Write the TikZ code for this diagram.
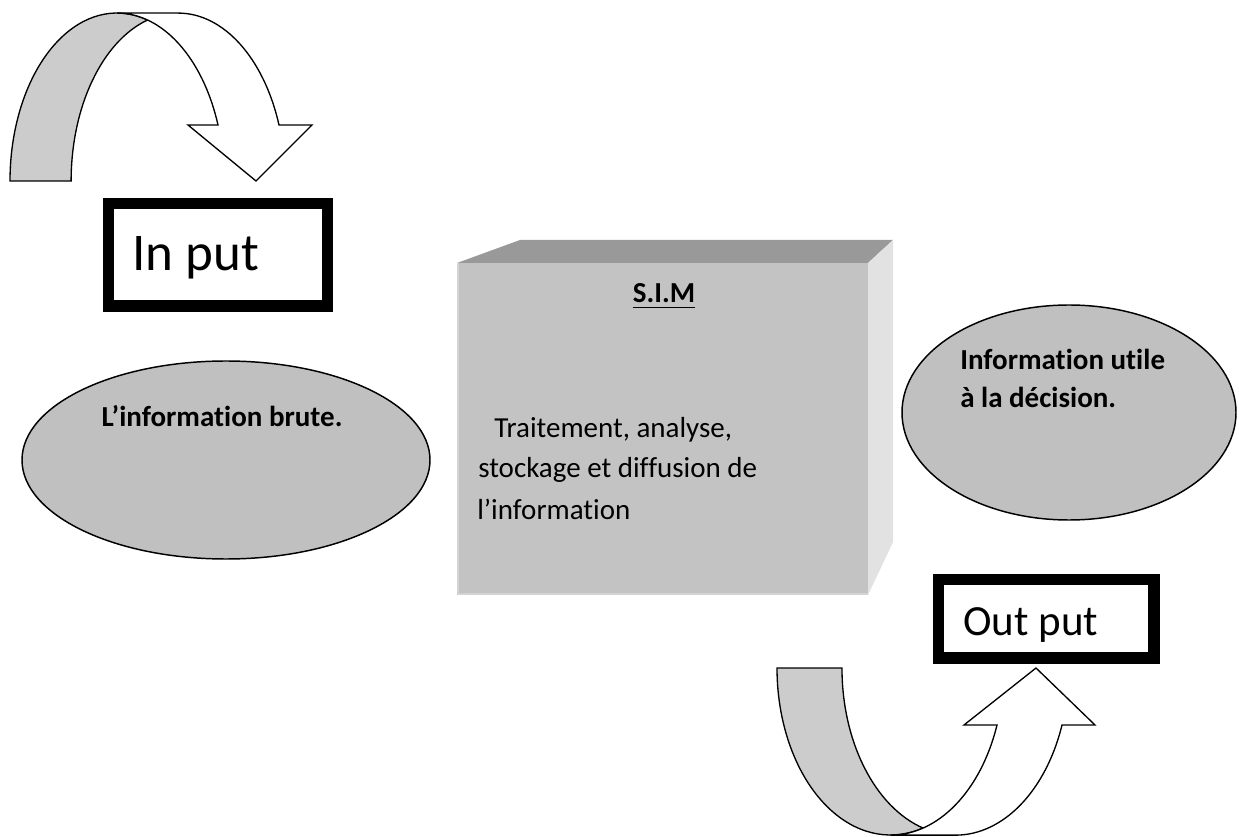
\documentclass[tikz,border=0pt]{standalone}
\usepackage{fontspec}
\setmainfont{Carlito}[Ligatures=NoCommon]
\usetikzlibrary{shapes.geometric}
\definecolor{bandgray}{HTML}{CCCCCC}
\definecolor{ovalgray}{HTML}{C0C0C0}
\definecolor{frontgray}{HTML}{C3C3C3}
\definecolor{edgegray}{HTML}{D3D3D3}
\definecolor{topgray}{HTML}{999999}
\definecolor{sidegray}{HTML}{E2E2E2}
\begin{document}
\begin{tikzpicture}[x=0.75pt,y=0.75pt,
  band/.style={draw=black, line width=1pt, line join=miter, fill=bandgray},
  head/.style={draw=black, line width=1pt, line join=miter, fill=white},
  oval/.style={ellipse, draw=black, line width=1.1pt, fill=ovalgray, inner sep=0pt},
  thickbox/.style={rectangle, draw=black, line width=8.6pt, fill=white, inner sep=0pt},
  bigword/.style={inner sep=0pt, anchor=base west},
  body/.style={inner sep=0pt, anchor=base west, font=\fontsize{21.75}{30}\selectfont},
  bodybold/.style={inner sep=0pt, anchor=base west, font=\bfseries\fontsize{21.75}{30}\selectfont},
]
% page
\fill[white] (0,0) rectangle (1239,-837);
\useasboundingbox (0,0) rectangle (1239,-837);

% ---- curved arrow pointing down (top left) ----
\path[band] (10,-181)
  arc[start angle=180, end angle=73.4, x radius=80.25pt, y radius=126pt]
  arc[start angle=106.6, end angle=180, x radius=80.25pt, y radius=126pt] -- cycle;
\path[head] (256,-181) -- (188,-125) -- (218,-125)
  arc[start angle=19.5, end angle=90, x radius=80.25pt, y radius=126pt]
  -- ++(61,0)
  arc[start angle=90, end angle=19.5, x radius=80.25pt, y radius=126pt]
  -- (312,-125) -- cycle;

% ---- input box ----
\node[thickbox, minimum width=164.25pt, minimum height=76.9pt] (inbox) at (218,-254.75) {};
\node[bigword, font=\fontsize{39.75}{48}\selectfont] (intext) at (132,-271) {In put};

% ---- raw information ----
\node[oval, minimum width=306pt, minimum height=148.5pt] (raw) at (226,-460) {};
\node[bodybold, anchor=base] (rawtext) at (222,-427) {L’information brute.};

% ---- the S.I.M block ----
\node[rectangle, fill=frontgray, minimum width=308.25pt, minimum height=249pt,
      inner sep=0pt, outer sep=0pt] (sim) at (662.5,-429) {};
\fill[topgray] (sim.north west) -- ++(63,23) -- ++(373,0) -- (sim.north east) -- cycle;
\fill[sidegray] (sim.north east) -- ++(25,23) -- ++(0,-302) -- (sim.south east) -- cycle;
\draw[edgegray, line width=1.2pt] ([xshift=0.75pt]sim.north west) -- ([xshift=0.75pt,yshift=0.75pt]sim.south west)
  -- ([yshift=0.75pt]sim.south east);
\node[bodybold, anchor=base] (simtitle) at (664,-303) {S.I.M};
\draw[line width=1pt] ([yshift=-3.4pt]simtitle.base west) -- ([yshift=-3.4pt]simtitle.base east);
\node[body] (simline1) at (494,-438) {Traitement, analyse,};
\node[body] (simline2) at (478,-478) {stockage et diffusion de};
\node[body] (simline3) at (477,-520) {l’information};

% ---- useful information ----
\node[oval, minimum width=250.5pt, minimum height=161.25pt] (useful) at (1069,-412.5) {};
\node[bodybold] (usefulline1) at (960,-370) {Information utile};
\node[bodybold] (usefulline2) at (960,-408) {à la décision.};

% ---- output box ----
\node[thickbox, minimum width=161.6pt, minimum height=58.9pt] (outbox) at (1046.25,-618.75) {};
\node[bigword, font=\fontsize{32.25}{40}\selectfont] (outtext) at (963,-635) {Out put};

% ---- curved arrow pointing up (bottom right) ----
\path[band] (777,-668)
  arc[start angle=180, end angle=286.65, x radius=85.05pt, y radius=125.25pt]
  arc[start angle=253.35, end angle=180, x radius=85.05pt, y radius=125.25pt] -- cycle;
\path[head] (1036,-668) -- (964,-725) -- (997,-725)
  arc[start angle=340.1, end angle=270, x radius=85.05pt, y radius=125.25pt]
  -- ++(65,0)
  arc[start angle=270, end angle=340.1, x radius=85.05pt, y radius=125.25pt]
  -- (1095,-725) -- cycle;
\end{tikzpicture}
\end{document}
